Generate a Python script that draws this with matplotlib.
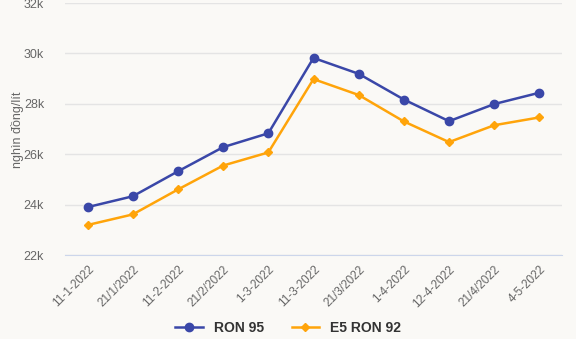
import numpy as np
import matplotlib
matplotlib.use('Agg')
import matplotlib.pyplot as plt
from matplotlib.ticker import FuncFormatter

plt.rcParams['font.family'] = ['Liberation Sans', 'DejaVu Sans']

# Giá xăng (nghìn đồng/lít)
dates = ['11-1-2022', '21/1/2022', '11-2-2022', '21/2/2022', '1-3-2022', '11-3-2022',
         '21/3/2022', '1-4-2022', '12-4-2022', '21/4/2022', '4-5-2022']
ron95 = [23900, 24330, 25320, 26280, 26830, 29820, 29190, 28170, 27310, 27990, 28440]
e5ron92 = [23190, 23610, 24600, 25550, 26070, 28980, 28350, 27300, 26480, 27150, 27460]

bg = '#faf9f6'
fig = plt.figure(figsize=(5.76, 3.39), dpi=100, facecolor=bg)
ax = fig.add_axes([65 / 576, 1 - 255 / 339, (562 - 65) / 576, (255 - 3) / 339])
ax.set_facecolor(bg)

x = np.arange(len(dates))
ax.plot(x, ron95, color='#3a47a8', lw=1.8, marker='o', ms=6, label='RON 95', zorder=3)
ax.plot(x, e5ron92, color='#ffa40a', lw=1.8, marker='D', ms=4.2, label='E5 RON 92', zorder=3)

ax.set_xlim(-0.5, len(dates) - 0.5)
ax.set_ylim(22000, 32000)
ax.set_yticks(np.arange(22000, 32001, 2000))
ax.yaxis.set_major_formatter(FuncFormatter(lambda v, p: f'{int(v / 1000)}k'))
ax.set_xticks(x)
ax.set_xticklabels(dates, rotation=45, ha='right', rotation_mode='anchor', fontsize=8.5)

ax.grid(axis='y', color='#e4e4e4', lw=1)
ax.set_axisbelow(True)
for s in ['top', 'right', 'left']:
    ax.spines[s].set_visible(False)
ax.spines['bottom'].set_color('#ccd6eb')
ax.tick_params(axis='both', length=0, colors='#666666')
ax.tick_params(axis='y', pad=15, labelsize=9)
ax.tick_params(axis='x', pad=6)

fig.text(18 / 576, 1 - 130 / 339, 'nghìn đồng/lít', rotation=90, ha='center', va='center',
         color='#666666', fontsize=9)

leg = fig.legend(loc='center', bbox_to_anchor=(0.5, 1 - 328 / 339), ncol=2, frameon=False,
                 prop={'weight': 'bold', 'size': 10}, handlelength=2, columnspacing=2)
for t in leg.get_texts():
    t.set_color('#333333')

fig.savefig('out.png', dpi=100, facecolor=bg)
